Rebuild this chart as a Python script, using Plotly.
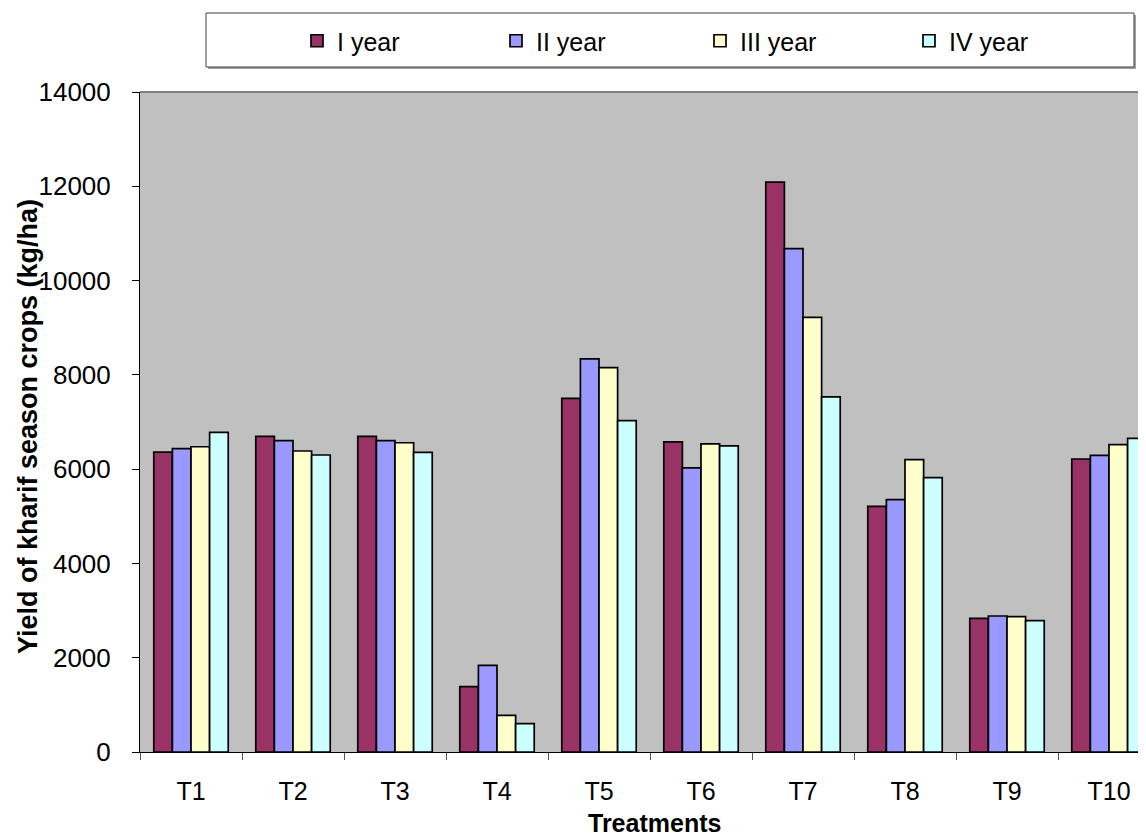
import plotly.graph_objects as go

categories = ["T1", "T2", "T3", "T4", "T5", "T6", "T7", "T8", "T9", "T10"]
year1 = [6360, 6695, 6695, 1385, 7500, 6578, 12090, 5210, 2835, 6215]
year2 = [6435, 6605, 6605, 1837, 8337, 6025, 10677, 5352, 2885, 6292]
year3 = [6475, 6385, 6560, 777, 8152, 6534, 9220, 6200, 2870, 6519]
year4 = [6780, 6300, 6356, 600, 7028, 6495, 7531, 5819, 2785, 6653]
series_names = ["I year", "II year", "III year", "IV year"]
series_colors = ["#993366", "#9999FF", "#FFFFCC", "#CCFFFF"]
y_ticks = [0, 2000, 4000, 6000, 8000, 10000, 12000, 14000]

# page body has an 8px margin: screen = figure + 8
OFF = 8
W, H = 1146, 837
PLOT_LEFT, PLOT_TOP, PLOT_BOTTOM = 140, 92, 752   # screen px in reference
L = PLOT_LEFT - OFF
T = PLOT_TOP - OFF
B = H - (PLOT_BOTTOM - OFF)
R = 0
pw = W - L - R
ph = H - T - B

def px2x(px):
    return (px - OFF - L) / pw

def py2y(py):
    return (H - B - (py - OFF)) / ph

legend_ids = ["legend", "legend2", "legend3", "legend4"]
marker_px = [322, 521, 725, 934]

fig = go.Figure()
for name, vals, col, lid in zip(series_names, [year1, year2, year3, year4], series_colors, legend_ids):
    fig.add_trace(go.Bar(
        x=categories, y=vals, name=name, legend=lid,
        marker=dict(color=col, line=dict(color="black", width=1.7)),
    ))

cat_px = 102.0
right_cat = -0.5 + pw / cat_px

legend_common = dict(
    orientation="h", xanchor="left", yanchor="middle",
    y=py2y(41), bgcolor="rgba(0,0,0,0)", borderwidth=0,
    font=dict(size=25), itemwidth=30,
)
legend_layout = {}
for lid, mx in zip(legend_ids, marker_px):
    d = dict(legend_common)
    d["x"] = px2x(mx - 19 - 6)
    legend_layout[lid] = d

fig.update_layout(
    width=W, height=H,
    margin=dict(l=L, r=R, t=T, b=B, pad=0, autoexpand=False),
    paper_bgcolor="white",
    plot_bgcolor="#C0C0C0",
    barmode="group",
    bargap=0.27,
    bargroupgap=0,
    font=dict(family="Liberation Sans, Arial, sans-serif", color="black", size=26),
    showlegend=True,
    xaxis=dict(
        type="category",
        range=[-0.5, right_cat],
        showgrid=False,
        showline=True, linecolor="black", linewidth=1,
        ticks="outside", tickson="boundaries", ticklen=7, tickcolor="#555555",
        tickfont=dict(size=25),
        ticklabelstandoff=17,
        zeroline=False,
    ),
    yaxis=dict(
        range=[0, 14000],
        tickvals=y_ticks,
        ticktext=[str(v) for v in y_ticks],
        showgrid=False,
        showline=True, linecolor="black", linewidth=1,
        ticks="outside", ticklen=7, tickcolor="black",
        tickfont=dict(size=26),
        ticklabelstandoff=16,
        zeroline=False,
    ),
    shapes=[
        dict(type="line", xref="paper", yref="paper", x0=0, x1=1, y0=1, y1=1,
             line=dict(color="#808080", width=2)),
        dict(type="rect", xref="paper", yref="paper",
             x0=px2x(208), x1=px2x(1136), y0=py2y(69), y1=py2y(15),
             fillcolor="#A0A0A0", line=dict(width=0), layer="below"),
        dict(type="rect", xref="paper", yref="paper",
             x0=px2x(206), x1=px2x(1134), y0=py2y(67), y1=py2y(13),
             fillcolor="white", line=dict(color="#404040", width=1), layer="below"),
    ],
    annotations=[
        dict(text="<b>Treatments</b>", xref="paper", yref="paper",
             x=px2x(654), y=py2y(823), xanchor="center", yanchor="middle",
             showarrow=False, font=dict(size=25)),
        dict(text="<b>Yield of kharif season crops (kg/ha)</b>", xref="paper", yref="paper",
             x=px2x(28), y=py2y(427), xanchor="center", yanchor="middle",
             textangle=-90, showarrow=False, font=dict(size=27)),
    ],
    **legend_layout,
)

fig.write_html("out.html")
